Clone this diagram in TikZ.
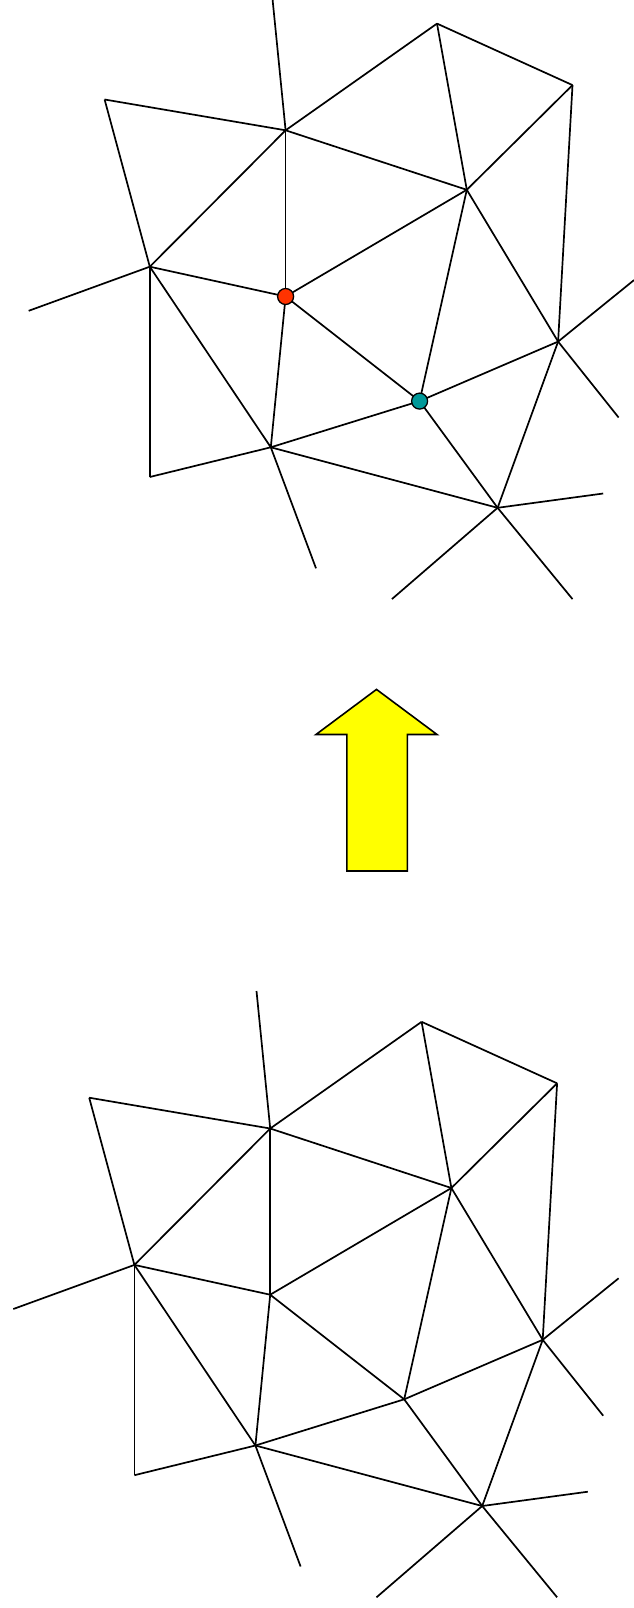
\documentclass[tikz,border=0pt]{standalone}
\usepackage{xcolor}
\usepackage{tikz}
\usetikzlibrary{positioning,calc}
\definecolor{hotpt}{HTML}{FF3300}
\definecolor{tealpt}{HTML}{009999}
\definecolor{flip}{HTML}{FFFF00}

\begin{document}
\begin{tikzpicture}[x=1pt,y=-1pt,
  edge/.style={black,line width=1.7pt},
  vdot/.style={circle,draw=black,line width=1.3pt,inner sep=0pt,minimum size=16pt},
  bigarrow/.style={draw=black,fill=flip,line width=1.6pt,line join=miter}]
  \useasboundingbox (0,0) rectangle (634,1608);
  % two copies of the mesh: t = after, b = before
  \foreach \m/\dx/\dy in {t/0/0,b/-15.4/998.2} {
    \begin{scope}[shift={(\dx,\dy)}]
      \foreach \n/\x/\y in {a/271.9/-7.2,B/285.6/130.3,C/437.0/23.6,D/572.5/85.1,
          E/104.6/99.5,F/466.8/189.8,G/149.8/266.7,H/285.6/296.5,I/28.7/310.8,
          J/558.1/341.6,K/634.0/280.1,L/419.6/401.1,M/618.6/417.5,N/270.8/447.3,
          O/149.8/477.0,P/603.2/493.5,Q/497.6/507.8,R/316.0/568.3,S/391.9/599.1,
          T/572.5/599.1}
        {\coordinate (\m\n) at (\x,\y);}
    \end{scope}
  }
  \foreach \m in {t,b}
    \foreach \u/\v in {a/B,B/C,C/D,C/F,D/F,D/J,E/B,E/G,B/G,B/H,B/F,
        G/I,G/H,G/N,G/O,F/H,F/L,F/J,H/N,H/L,J/K,J/M,J/L,J/Q,
        L/N,L/Q,N/O,N/Q,N/R,Q/P,Q/S,Q/T}
      {\draw[edge] (\m\u) -- (\m\v);}
  % marked vertices
  \node[vdot,fill=hotpt] (redv) at (tH) {};
  \node[vdot,fill=tealpt] (tealv) at (tL) {};
  % arrow
  \draw[bigarrow] (376.5,689.4) -- (437.0,734.5) -- (407.3,734.5) -- (407.3,871.0)
    -- (346.8,871.0) -- (346.8,734.5) -- (316.0,734.5) -- cycle;
\end{tikzpicture}
\end{document}
